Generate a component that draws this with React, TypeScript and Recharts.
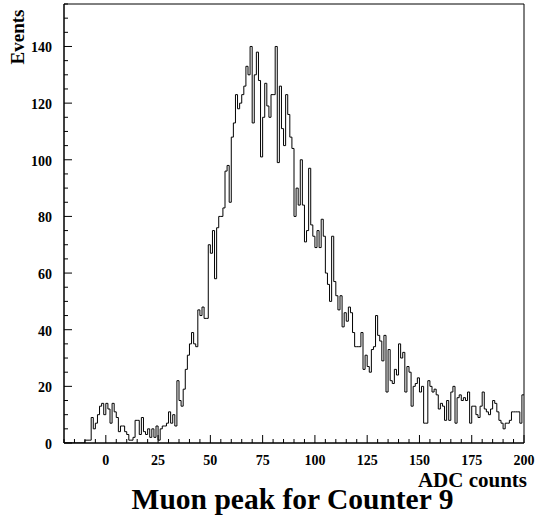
import { LineChart, Line, XAxis, YAxis, ReferenceArea } from 'recharts';

// histogram: 1 ADC count per bin, first bin starts at -20
const BIN_LOW = -20;
const BIN_WIDTH = 1;
const COUNTS = [
  0, 0, 0, 0, 0, 0, 0, 0, 0, 0,
  1, 1, 1, 9, 5, 7, 10, 13, 14, 10,
  14, 12, 7, 14, 11, 9, 4, 6, 6, 4,
  3, 1, 1, 2, 8, 8, 3, 9, 4, 3,
  5, 2, 5, 2, 6, 1, 5, 6, 6, 7,
  11, 7, 10, 6, 22, 15, 13, 19, 26, 31,
  35, 39, 35, 34, 47, 45, 48, 44, 44, 70,
  67, 75, 58, 76, 80, 80, 83, 96, 98, 85,
  108, 113, 123, 118, 120, 123, 126, 133, 130, 140,
  113, 130, 138, 128, 101, 115, 127, 119, 115, 123,
  123, 140, 99, 126, 111, 105, 123, 116, 108, 104,
  80, 90, 84, 100, 84, 71, 75, 97, 77, 73,
  69, 75, 69, 79, 73, 60, 56, 50, 73, 57,
  52, 47, 52, 41, 46, 43, 48, 46, 39, 34,
  34, 34, 39, 26, 31, 27, 25, 33, 34, 45,
  38, 36, 29, 38, 18, 33, 22, 21, 26, 24,
  35, 30, 32, 18, 27, 25, 13, 20, 21, 23,
  18, 20, 7, 7, 22, 20, 18, 19, 17, 12,
  14, 13, 8, 15, 8, 18, 20, 7, 16, 17,
  15, 16, 15, 18, 7, 13, 13, 10, 9, 13,
  18, 12, 11, 10, 12, 15, 14, 11, 8, 7,
  5, 7, 7, 8, 11, 11, 11, 11, 7, 17,
];

const X_TICKS = [
  -20, -15, -10, -5, 0, 5, 10, 15, 20, 25, 30, 35, 40, 45, 50, 55, 60, 65, 70, 75, 80, 85, 90,
  95, 100, 105, 110, 115, 120, 125, 130, 135, 140, 145, 150, 155, 160, 165, 170, 175, 180, 185,
  190, 195, 200,
];
const X_LABELS = [0, 25, 50, 75, 100, 125, 150, 175, 200];
const Y_TICKS = [
  0, 5, 10, 15, 20, 25, 30, 35, 40, 45, 50, 55, 60, 65, 70, 75, 80, 85, 90, 95, 100, 105, 110,
  115, 120, 125, 130, 135, 140, 145, 150, 155,
];
const Y_LABELS = [0, 20, 40, 60, 80, 100, 120, 140];

const FONT = '"Liberation Serif", "Times New Roman", serif';

const data = COUNTS.map((n, i) => ({ adc: BIN_LOW + i * BIN_WIDTH, n }));
// close the last bin
data.push({ adc: BIN_LOW + COUNTS.length * BIN_WIDTH, n: COUNTS[COUNTS.length - 1] });

function XTick(props: any) {
  const { x, y, payload } = props;
  const v = payload?.value;
  const major = X_LABELS.includes(v);
  return (
    <g>
      <line x1={x} x2={x} y1={y} y2={y - (major ? 8 : 4)} stroke="#000" />
      {major && (
        <text x={x} y={y + 22} textAnchor="middle" fontFamily={FONT} fontWeight="bold" fontSize={14} fill="#000">
          {v}
        </text>
      )}
    </g>
  );
}

function YTick(props: any) {
  const { x, y, payload } = props;
  const v = payload?.value;
  const major = Y_LABELS.includes(v);
  return (
    <g>
      <line x1={x} x2={x + (major ? 8 : 4)} y1={y} y2={y} stroke="#000" />
      {major && (
        <text x={x - 12} y={y + 6} textAnchor="end" fontFamily={FONT} fontWeight="bold" fontSize={14} fill="#000">
          {v}
        </text>
      )}
    </g>
  );
}

const textStyle: any = { position: 'absolute', fontFamily: FONT, fontWeight: 'bold', color: '#000', whiteSpace: 'nowrap', lineHeight: 1 };

export default function App() {
  return (
    <div style={{ position: 'absolute', left: 0, top: 0, width: 535, height: 525, background: '#fff' }}>
      <LineChart width={535} height={525} data={data} margin={{ top: 4, right: 11, left: 0, bottom: 0 }}>
        <XAxis
          dataKey="adc"
          type="number"
          domain={[-20, 200]}
          ticks={X_TICKS}
          interval={0}
          height={82}
          tickSize={0}
          tickMargin={0}
          tickLine={false}
          axisLine={{ stroke: '#000' }}
          tick={(p: any) => <XTick {...p} />}
          allowDataOverflow
        />
        <YAxis
          type="number"
          domain={[0, 155]}
          ticks={Y_TICKS}
          interval={0}
          width={64}
          tickSize={0}
          tickMargin={0}
          tickLine={false}
          axisLine={{ stroke: '#000' }}
          tick={(p: any) => <YTick {...p} />}
          allowDataOverflow
        />
        <ReferenceArea x1={-20} x2={200} y1={0} y2={155} fill="none" stroke="#000" strokeWidth={1} ifOverflow="visible" />
        <Line type="stepAfter" dataKey="n" stroke="#000" strokeWidth={1} dot={false} isAnimationActive={false} />
      </LineChart>
      <div style={{ ...textStyle, left: 16.7, top: 36.7, fontSize: 19, transform: 'translate(-50%, -50%) rotate(-90deg)' }}>
        Events
      </div>
      <div style={{ ...textStyle, right: 8, top: 470, fontSize: 21 }}>ADC counts</div>
      <div style={{ ...textStyle, left: 292.5, top: 485, fontSize: 29.5, transform: 'translateX(-50%)' }}>
        Muon peak for Counter 9
      </div>
    </div>
  );
}
